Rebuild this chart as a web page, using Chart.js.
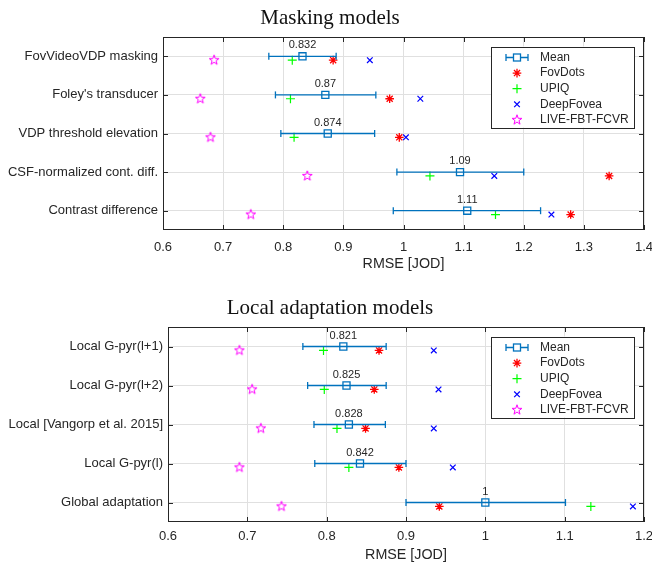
<!DOCTYPE html>
<html>
<head>
<meta charset="utf-8">
<script src="https://cdn.jsdelivr.net/npm/chart.js@4.4.0/dist/chart.umd.min.js"></script>
<style>
  body { margin: 0; background: #fff; }
  #wrap { position: relative; width: 652px; height: 568px; }
  canvas { position: absolute; left: 0; }
</style>
</head>
<body>
<div id="wrap">
  <canvas id="maskChart" width="652" height="284" style="top:0"></canvas>
  <canvas id="adaptChart" width="652" height="284" style="top:284px"></canvas>
</div>
<script>
// --- Masking models ---
const maskRows = ['FovVideoVDP masking', "Foley's transducer", 'VDP threshold elevation', 'CSF-normalized cont. diff.', 'Contrast difference'];
const maskMean = [0.832, 0.870, 0.874, 1.094, 1.106];
const maskLo = [0.776, 0.787, 0.796, 0.989, 0.983];
const maskHi = [0.888, 0.954, 0.952, 1.200, 1.228];
const maskFovDots = [0.883, 0.977, 0.993, 1.342, 1.278];
const maskUPIQ = [0.815, 0.812, 0.818, 1.044, 1.153];
const maskDeepFovea = [0.944, 1.028, 1.004, 1.151, 1.246];
const maskLive = [0.685, 0.662, 0.679, 0.840, 0.746];
const maskTicks = [0.6, 0.7, 0.8, 0.9, 1.0, 1.1, 1.2, 1.3, 1.4];

// --- Local adaptation models ---
const adaptRows = ['Local G-pyr(l+1)', 'Local G-pyr(l+2)', 'Local [Vangorp et al. 2015]', 'Local G-pyr(l)', 'Global adaptation'];
const adaptMean = [0.821, 0.825, 0.828, 0.842, 1.000];
const adaptLo = [0.770, 0.776, 0.784, 0.785, 0.900];
const adaptHi = [0.875, 0.875, 0.874, 0.900, 1.101];
const adaptFovDots = [0.866, 0.860, 0.849, 0.891, 0.942];
const adaptUPIQ = [0.796, 0.797, 0.813, 0.828, 1.133];
const adaptDeepFovea = [0.935, 0.941, 0.935, 0.959, 1.186];
const adaptLive = [0.690, 0.706, 0.717, 0.690, 0.743];
const adaptTicks = [0.6, 0.7, 0.8, 0.9, 1.0, 1.1, 1.2];

const legendNames = ['Mean', 'FovDots', 'UPIQ', 'DeepFovea', 'LIVE-FBT-FCVR'];

const SANS = '"Liberation Sans", Arial, sans-serif';
const TXT = '#262626';
const BLUE = '#0072BD';
const OFF = 0.1; // other metrics sit slightly below the row line

function pentagram(color, r) {
  const c = document.createElement('canvas');
  const s = Math.ceil(2 * r + 3);
  c.width = s; c.height = s;
  const g = c.getContext('2d');
  g.strokeStyle = color;
  g.lineWidth = 1;
  g.beginPath();
  for (let k = 0; k < 10; k++) {
    const a = -Math.PI / 2 + k * Math.PI / 5;
    const rr = k % 2 ? r * 0.4 : r;
    g.lineTo(s / 2 + rr * Math.cos(a), s / 2 + rr * Math.sin(a));
  }
  g.closePath();
  g.stroke();
  return c;
}
const starImg = pentagram('#ff00ff', 5.2);

const markerStyles = [
  null,
  {pointStyle: 'star', radius: 4.3, rotation: 0, borderWidth: 1.3, color: '#ff0000'},
  {pointStyle: 'cross', radius: 4.5, rotation: 0, borderWidth: 1.2, color: '#00ff00'},
  {pointStyle: 'crossRot', radius: 4, rotation: 0, borderWidth: 1.2, color: '#0000ff'},
  {pointStyle: starImg, radius: 5, rotation: 0, borderWidth: 1, color: '#ff00ff'}
];

function makeChart(id, cfg) {
  const {rows, mean, lo, hi, series, ticks, geo, title} = cfg;
  const datasets = [];
  rows.forEach((r, i) => {
    datasets.push({
      data: [{x: lo[i], y: i + 1}, {x: hi[i], y: i + 1}],
      showLine: true,
      borderColor: BLUE, borderWidth: 1.3,
      pointStyle: 'line', rotation: 90, pointRadius: 3.5,
      pointBorderColor: BLUE, pointBorderWidth: 1.3
    });
  });
  datasets.push({
    label: 'Mean',
    data: mean.map((v, i) => ({x: v, y: i + 1})),
    pointStyle: 'rect', pointRadius: 5,
    pointBorderColor: BLUE, pointBackgroundColor: 'rgba(0,0,0,0)', pointBorderWidth: 1.3
  });
  series.forEach((vals, k) => {
    const m = markerStyles[k + 1];
    datasets.push({
      label: legendNames[k + 1],
      data: vals.map((v, i) => ({x: v, y: i + 1 + OFF})),
      pointStyle: m.pointStyle, pointRadius: m.radius,
      pointBorderColor: m.color, pointBackgroundColor: 'rgba(0,0,0,0)',
      pointBorderWidth: m.borderWidth
    });
  });

  const framePlugin = {
    id: 'frame',
    beforeDatasetsDraw(chart) {
      const {ctx, chartArea: {left, top, right, bottom}, scales: {x, y}} = chart;
      ctx.save();
      ctx.strokeStyle = TXT;
      ctx.lineWidth = 1;
      ctx.strokeRect(left + 0.5, top + 0.5, right - left - 1, bottom - top - 1);
      ctx.beginPath();
      const tl = 5;
      ticks.forEach(t => {
        const px = Math.round(x.getPixelForValue(t)) + 0.5;
        ctx.moveTo(px, top); ctx.lineTo(px, top + tl);
        ctx.moveTo(px, bottom); ctx.lineTo(px, bottom - tl);
      });
      rows.forEach((r, i) => {
        const py = Math.round(y.getPixelForValue(i + 1)) + 0.5;
        ctx.moveTo(left, py); ctx.lineTo(left + tl, py);
        ctx.moveTo(right, py); ctx.lineTo(right - tl, py);
      });
      ctx.stroke();
      ctx.restore();
    }
  };

  const labelPlugin = {
    id: 'meanLabels',
    afterDatasetsDraw(chart) {
      const {ctx, scales: {x, y}} = chart;
      ctx.save();
      ctx.font = '11px ' + SANS;
      ctx.fillStyle = TXT;
      ctx.textAlign = 'center';
      ctx.textBaseline = 'middle';
      mean.forEach((v, i) => {
        const txt = String(Number(v.toPrecision(3)));
        ctx.fillText(txt, x.getPixelForValue(v), y.getPixelForValue(i + 1) - 11);
      });
      ctx.restore();
    }
  };

  const decorPlugin = {
    id: 'decor',
    afterDraw(chart) {
      const {ctx, chartArea: {top, right}} = chart;
      ctx.save();
      // title
      ctx.font = '21px "Liberation Serif", "Times New Roman", serif';
      ctx.fillStyle = '#111';
      ctx.textAlign = 'center';
      ctx.textBaseline = 'alphabetic';
      ctx.fillText(title, 330, geo.titleY);
      // legend
      const bx = right - 153, by = top + 9.5, bw = 143, bh = 81;
      ctx.fillStyle = '#fff';
      ctx.fillRect(bx, by, bw, bh);
      ctx.strokeStyle = TXT;
      ctx.lineWidth = 1;
      ctx.strokeRect(Math.round(bx) + 0.5, Math.round(by) + 0.5, bw, bh);
      const mx = bx + 26, tx = bx + 49;
      ctx.font = '12px ' + SANS;
      ctx.textAlign = 'left';
      ctx.textBaseline = 'middle';
      legendNames.forEach((name, k) => {
        const ly = by + 11 + k * 15.6;
        if (k === 0) {
          ctx.strokeStyle = BLUE;
          ctx.lineWidth = 1.3;
          ctx.beginPath();
          ctx.moveTo(mx - 11, ly); ctx.lineTo(mx + 11, ly);
          ctx.moveTo(mx - 11, ly - 3.5); ctx.lineTo(mx - 11, ly + 3.5);
          ctx.moveTo(mx + 11, ly - 3.5); ctx.lineTo(mx + 11, ly + 3.5);
          ctx.stroke();
          ctx.fillStyle = '#fff';
          ctx.fillRect(mx - 3.5, ly - 3.5, 7, 7);
          ctx.strokeRect(mx - 3.5, ly - 3.5, 7, 7);
        } else {
          const m = markerStyles[k];
          ctx.strokeStyle = m.color;
          ctx.fillStyle = 'rgba(0,0,0,0)';
          ctx.lineWidth = m.borderWidth;
          Chart.helpers.drawPoint(ctx, {pointStyle: m.pointStyle, radius: m.radius, rotation: 0, borderWidth: m.borderWidth}, mx, ly);
        }
        ctx.fillStyle = TXT;
        ctx.fillText(name, tx, ly);
      });
      ctx.restore();
    }
  };

  return new Chart(document.getElementById(id), {
    type: 'scatter',
    data: {datasets},
    options: {
      responsive: false,
      animation: false,
      events: [],
      layout: {padding: {left: 0, right: 8, top: geo.top, bottom: 0}},
      plugins: {legend: {display: false}, tooltip: {enabled: false}, title: {display: false}},
      scales: {
        x: {
          type: 'linear',
          min: ticks[0],
          max: ticks[ticks.length - 1],
          afterBuildTicks: s => { s.ticks = ticks.map(v => ({value: v})); },
          afterFit: s => { s.height = geo.axisH; s.paddingLeft = 0; s.paddingRight = 0; },
          grid: {color: '#e0e0e0', drawTicks: false, lineWidth: 1},
          border: {display: false},
          ticks: {
            padding: geo.tickPad, color: TXT, autoSkip: false, maxRotation: 0,
            font: {family: SANS, size: 13},
            callback: v => String(Number(Number(v).toFixed(2)))
          },
          title: {
            display: true, text: 'RMSE [JOD]', color: TXT,
            font: {family: SANS, size: 14.3}, padding: {top: 1, bottom: geo.titlePadB}
          }
        },
        y: {
          type: 'linear',
          reverse: true,
          min: 0.5,
          max: 5.5,
          afterBuildTicks: s => { s.ticks = rows.map((r, i) => ({value: i + 1})); },
          afterFit: s => { s.width = geo.left; s.paddingTop = 0; s.paddingBottom = 0; },
          grid: {color: '#e0e0e0', drawTicks: false, lineWidth: 1},
          border: {display: false},
          ticks: {
            padding: 5, color: TXT, autoSkip: false,
            font: {family: SANS, size: 13},
            callback: v => rows[Math.round(v) - 1]
          }
        }
      }
    },
    plugins: [framePlugin, labelPlugin, decorPlugin]
  });
}

makeChart('maskChart', {
  rows: maskRows, mean: maskMean, lo: maskLo, hi: maskHi,
  series: [maskFovDots, maskUPIQ, maskDeepFovea, maskLive],
  ticks: maskTicks, title: 'Masking models',
  geo: {top: 37, left: 163, axisH: 54, titleY: 24, tickPad: 10, titlePadB: 11.5}
});

makeChart('adaptChart', {
  rows: adaptRows, mean: adaptMean, lo: adaptLo, hi: adaptHi,
  series: [adaptFovDots, adaptUPIQ, adaptDeepFovea, adaptLive],
  ticks: adaptTicks, title: 'Local adaptation models',
  geo: {top: 43, left: 168, axisH: 46, titleY: 30, tickPad: 7, titlePadB: 4.5}
});
</script>
</body>
</html>
